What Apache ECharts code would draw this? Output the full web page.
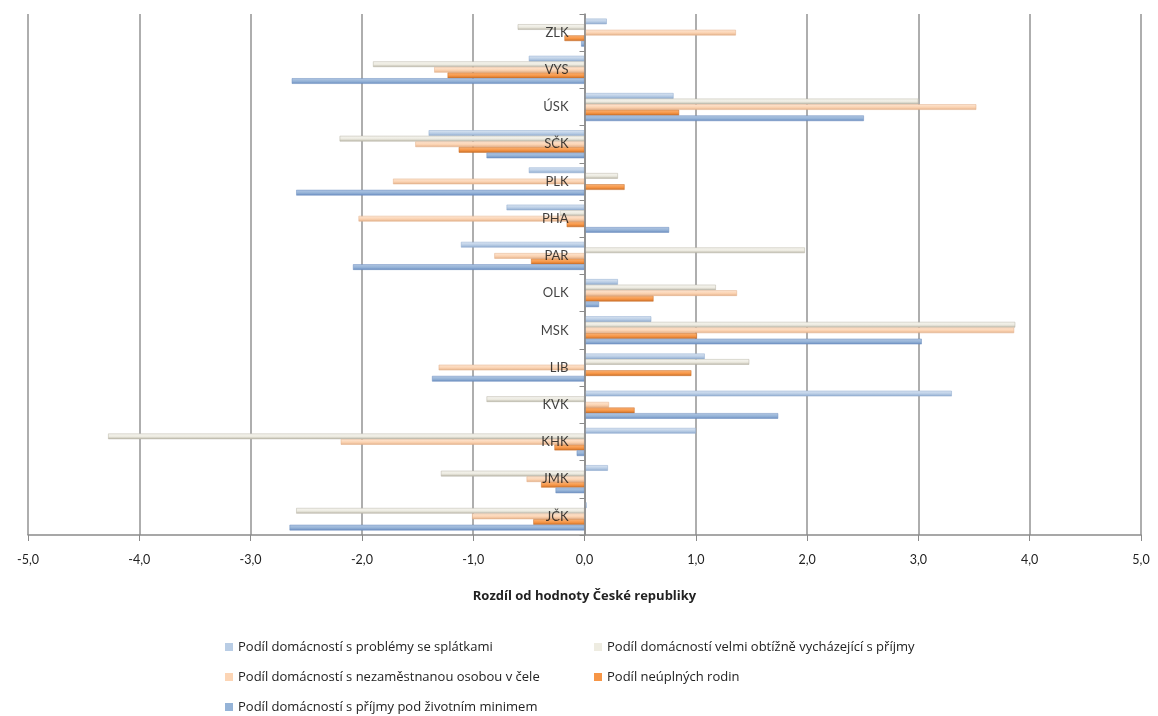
<!DOCTYPE html>
<html>
<head>
<meta charset="utf-8">
<script src="https://cdn.jsdelivr.net/npm/echarts@6/dist/echarts.min.js"></script>
<style>
html,body{margin:0;padding:0;background:#fff;}
#c{width:1158px;height:716px;}
</style>
</head>
<body>
<div id="c"></div>
<script>
var categories = ['JČK','JMK','KHK','KVK','LIB','MSK','OLK','PAR','PHA','PLK','SČK','ÚSK','VYS','ZLK'];
var xTicks = [-5,-4,-3,-2,-1,0,1,2,3,4,5];
var seriesNames = [
  'Podíl domácností s problémy se splátkami',
  'Podíl domácností velmi obtížně vycházející s příjmy',
  'Podíl domácností s nezaměstnanou osobou v čele',
  'Podíl neúplných rodin',
  'Podíl domácností s příjmy pod životním minimem'
];
var problemy  = [0.02, 0.21, 1.00, 3.30, 1.08, 0.60, 0.30, -1.11, -0.70, -0.50, -1.40, 0.80, -0.50, 0.20];
var obtizne   = [-2.59, -1.29, -4.28, -0.88, 1.48, 3.87, 1.18, 1.98, -0.22, 0.30, -2.20, 3.00, -1.90, -0.60];
var nezam     = [-1.01, -0.52, -2.19, 0.22, -1.31, 3.86, 1.37, -0.81, -2.03, -1.72, -1.52, 3.52, -1.35, 1.36];
var neuplne   = [-0.46, -0.39, -0.27, 0.45, 0.96, 1.01, 0.62, -0.48, -0.16, 0.36, -1.13, 0.85, -1.23, -0.18];
var podMinimem= [-2.65, -0.26, -0.07, 1.74, -1.37, 3.03, 0.13, -2.08, 0.76, -2.59, -0.88, 2.51, -2.63, -0.03];

var palette = [
  {top:'#DCE6F3', mid:'#B9CDE5', bot:'#8FAACE', solid:'#B9CDE5'},
  {top:'#F7F6F1', mid:'#ECEAE0', bot:'#B8B4A6', solid:'#EEECE1'},
  {top:'#FDE6D3', mid:'#FBD3B2', bot:'#E2B08A', solid:'#FCD5B5'},
  {top:'#F9B47A', mid:'#F79646', bot:'#C86E28', solid:'#F79646'},
  {top:'#B3C7E3', mid:'#95B3D7', bot:'#6A8CBF', solid:'#95B3D7'}
];
var values = [problemy, obtizne, nezam, neuplne, podMinimem];

function grad(p){
  return new echarts.graphic.LinearGradient(0,0,0,1,[
    {offset:0,color:p.top},{offset:0.55,color:p.mid},{offset:1,color:p.bot}
  ]);
}

var series = values.map(function(v,i){
  return {
    name: seriesNames[i],
    type: 'bar',
    data: v,
    barWidth: 5.6,
    barGap: '0%',
    itemStyle: {color: grad(palette[i]), borderColor: palette[i].bot, borderWidth: 0.5},
    emphasis: {disabled: true},
    animation: false
  };
});

// category labels placed next to the zero axis
series.push({
  name: 'labels',
  type: 'scatter',
  data: categories.map(function(c){ return [0, c]; }),
  symbolSize: 0,
  z: 5,
  silent: true,
  label: {
    show: true,
    position: 'left',
    distance: 16,
    fontFamily: 'Lato',
    fontSize: 13,
    color: '#111',
    formatter: function(p){ return p.value[1]; }
  },
  emphasis: {disabled: true}
});

function legendData(idx){
  return idx.map(function(i){ return {name: seriesNames[i], itemStyle:{color: palette[i].solid, borderWidth:0}}; });
}

var legendCommon = {
  orient: 'vertical',
  icon: 'rect',
  itemWidth: 8,
  itemHeight: 8,
  itemGap: 16,
  padding: 0,
  textStyle: {fontFamily: 'Open Sans', fontSize: 13, color: '#222', lineHeight: 14},
  selectedMode: false
};

var chart = echarts.init(document.getElementById('c'), null, {renderer:'canvas'});
chart.setOption({
  backgroundColor: '#fff',
  animation: false,
  textStyle: {fontFamily: 'Lato'},
  grid: {left: 28, right: 17, top: 14, bottom: 181, containLabel: false, outerBoundsMode: 'none'},
  legend: [
    Object.assign({left: 225, top: 640, data: legendData([0,2,4])}, legendCommon),
    Object.assign({left: 594, top: 640, data: legendData([1,3])}, legendCommon)
  ],
  xAxis: {
    type: 'value',
    min: xTicks[0],
    max: xTicks[xTicks.length-1],
    interval: 1,
    name: 'Rozdíl od hodnoty České republiky',
    nameLocation: 'middle',
    nameGap: 55,
    nameTextStyle: {fontFamily:'Open Sans', fontSize: 13, fontWeight: 'bold', color: '#222'},
    axisLine: {show: true, lineStyle: {color: '#8a8a8a', width: 1.5}},
    axisTick: {show: true, length: 6, lineStyle: {color: '#8a8a8a'}},
    axisLabel: {fontFamily:'Lato', fontSize: 12.5, color: '#222', margin: 18,
      formatter: function(v){ return v.toFixed(1).replace('.', ','); }},
    splitLine: {show: true, lineStyle: {color: '#939393', width: 1.5}}
  },
  yAxis: {
    type: 'category',
    data: categories,
    z: 5,
    axisLine: {show: true, onZero: true, lineStyle: {color: '#8a8a8a', width: 1.5}},
    axisTick: {show: true, length: 5, lineStyle: {color: '#8a8a8a'}},
    axisLabel: {show: false},
    splitLine: {show: false}
  },
  series: series
});
</script>
</body>
</html>
